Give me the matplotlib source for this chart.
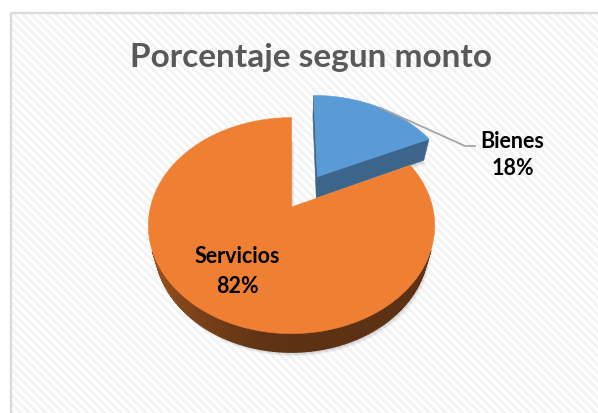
import numpy as np
import matplotlib
matplotlib.use("Agg")
import matplotlib.pyplot as plt
from matplotlib.patches import Polygon, Rectangle
from matplotlib.colors import to_rgb

# ---- data ----
title = "Porcentaje segun monto"
labels = ["Bienes", "Servicios"]
values = [18, 82]
top_colors = ["#5b9bd5", "#ef7f32"]
explode = [0.36, 0.0]

# ---- canvas ----
W, H = 598, 413
plt.rcParams["hatch.linewidth"] = 2.0
fig = plt.figure(figsize=(W / 100, H / 100), dpi=100)
ax = fig.add_axes([0, 0, 1, 1])
ax.set_xlim(0, W)
ax.set_ylim(H, 0)
ax.axis("off")

# chart area: white with faint diagonal stripes and a light border
ax.add_patch(Rectangle((10.5, 12.5), W, H, facecolor="white", edgecolor="#f3f3f3",
                       hatch="\\\\\\\\", linewidth=0, zorder=0))
ax.add_patch(Rectangle((10.5, 12.5), W, H, facecolor="none", edgecolor="#d9d9d9",
                       linewidth=1.6, zorder=1))

# ---- 3D pie projection (perspective, tilted disc) ----
elev = np.deg2rad(48)
dist = 3.88
depth = 0.23
R = 141.0
cx, cy = 291.5, 207.0
ce, se = np.cos(elev), np.sin(elev)
cam = np.array([0.0, -dist * ce, dist * se])


def project(x, y, z):
    Y = y * se + z * ce
    w = y * ce - z * se
    s = dist / (dist + w)
    return cx + R * x * s, cy - R * Y * s


def shade(color, f):
    r, g, b = to_rgb(color)
    return (r * f, g * f, b * f)


def facing(normal, point):
    return np.dot(normal, cam - np.asarray(point)) > 0


total = float(sum(values))
fracs = [v / total for v in values]
bounds = np.concatenate([[0.0], np.cumsum(fracs)]) * 2 * np.pi

slices = []
for i in range(len(values)):
    t0, t1 = bounds[i], bounds[i + 1]
    mid = 0.5 * (t0 + t1)
    ox, oy = explode[i] * np.sin(mid), explode[i] * np.cos(mid)
    slices.append(dict(i=i, t0=t0, t1=t1, mid=mid, ox=ox, oy=oy))

# paint the farthest slice first
order = sorted(slices, key=lambda s: s["oy"], reverse=True)


def rim_pts(s, z, n=160):
    ts = np.linspace(s["t0"], s["t1"], n)
    return [project(s["ox"] + np.sin(t), s["oy"] + np.cos(t), z) for t in ts]


# soft drop shadow under each slice
for s in slices:
    base = [project(s["ox"], s["oy"], -depth)] + rim_pts(s, -depth)
    for k in range(5):
        d = 1.0 + 0.8 * k
        pts = [(x + d * 0.6, y + d) for x, y in base]
        ax.add_patch(Polygon(pts, closed=True, facecolor="black", edgecolor="none",
                             alpha=0.035, zorder=2))

z = 3
for s in order:
    col = top_colors[s["i"]]
    ox, oy = s["ox"], s["oy"]
    # outer rim, split into thin shaded quads
    ts = np.linspace(s["t0"], s["t1"], 241)
    for ta, tb in zip(ts[:-1], ts[1:]):
        tm = 0.5 * (ta + tb)
        n = np.array([np.sin(tm), np.cos(tm), 0.0])
        p = np.array([ox + np.sin(tm), oy + np.cos(tm), -depth / 2])
        if not facing(n, p):
            continue
        f = 0.39 + 0.27 * max(0.0, -np.sin(tm)) ** 1.5
        quad = [project(ox + np.sin(ta), oy + np.cos(ta), 0),
                project(ox + np.sin(tb), oy + np.cos(tb), 0),
                project(ox + np.sin(tb), oy + np.cos(tb), -depth),
                project(ox + np.sin(ta), oy + np.cos(ta), -depth)]
        c = shade(col, f)
        ax.add_patch(Polygon(quad, closed=True, facecolor=c, edgecolor=c,
                             linewidth=1.0, zorder=z))
    z += 1
    # radial cut faces
    for t, n in ((s["t0"], np.array([-np.cos(s["t0"]), np.sin(s["t0"]), 0.0])),
                 (s["t1"], np.array([np.cos(s["t1"]), -np.sin(s["t1"]), 0.0]))):
        if fracs[s["i"]] >= 1.0:
            continue
        p = np.array([ox + 0.5 * np.sin(t), oy + 0.5 * np.cos(t), -depth / 2])
        if not facing(n, p):
            continue
        face = [project(ox, oy, 0),
                project(ox + np.sin(t), oy + np.cos(t), 0),
                project(ox + np.sin(t), oy + np.cos(t), -depth),
                project(ox, oy, -depth)]
        c = shade(col, 0.65)
        ax.add_patch(Polygon(face, closed=True, facecolor=c, edgecolor=c,
                             linewidth=0.4, zorder=z))
    z += 1
    # top surface
    top = [project(ox, oy, 0)] + rim_pts(s, 0)
    ax.add_patch(Polygon(top, closed=True, facecolor=col, edgecolor=col,
                         linewidth=0.4, zorder=z))
    z += 1

# ---- title ----
ax.text(310.5, 67, title, ha="center", va="baseline", fontsize=24,
        fontweight="bold", color="#595959", family="Lato", zorder=20)

# ---- data labels ----
pcts = [f"{round(v / total * 100)}%" for v in values]
lab_kw = dict(ha="center", va="baseline", fontsize=15.5, fontweight="bold",
              color="black", family="Lato", zorder=20)

# inside label for the large slice
s = slices[1]
lx, ly = project(0.646 * np.sin(s["mid"]), 0.646 * np.cos(s["mid"]), 0)
ax.text(lx, ly - 7, labels[1], **lab_kw)
ax.text(lx, ly + 23, pcts[1], **lab_kw)

# outside label with leader line for the exploded slice
s = slices[0]
ta = s["t0"] + 0.52 * (s["t1"] - s["t0"])
axp, ayp = project(s["ox"] + np.sin(ta), s["oy"] + np.cos(ta), 0)
tx, ty = 512.5, 148
ax.plot([axp, 465, 476], [ayp, 146, 146], color="#a6a6a6", lw=1.3,
        solid_capstyle="butt", zorder=19)
ax.text(tx, ty, labels[0], **lab_kw)
ax.text(tx, ty + 27, pcts[0], **lab_kw)

fig.savefig("out.png", dpi=100)
